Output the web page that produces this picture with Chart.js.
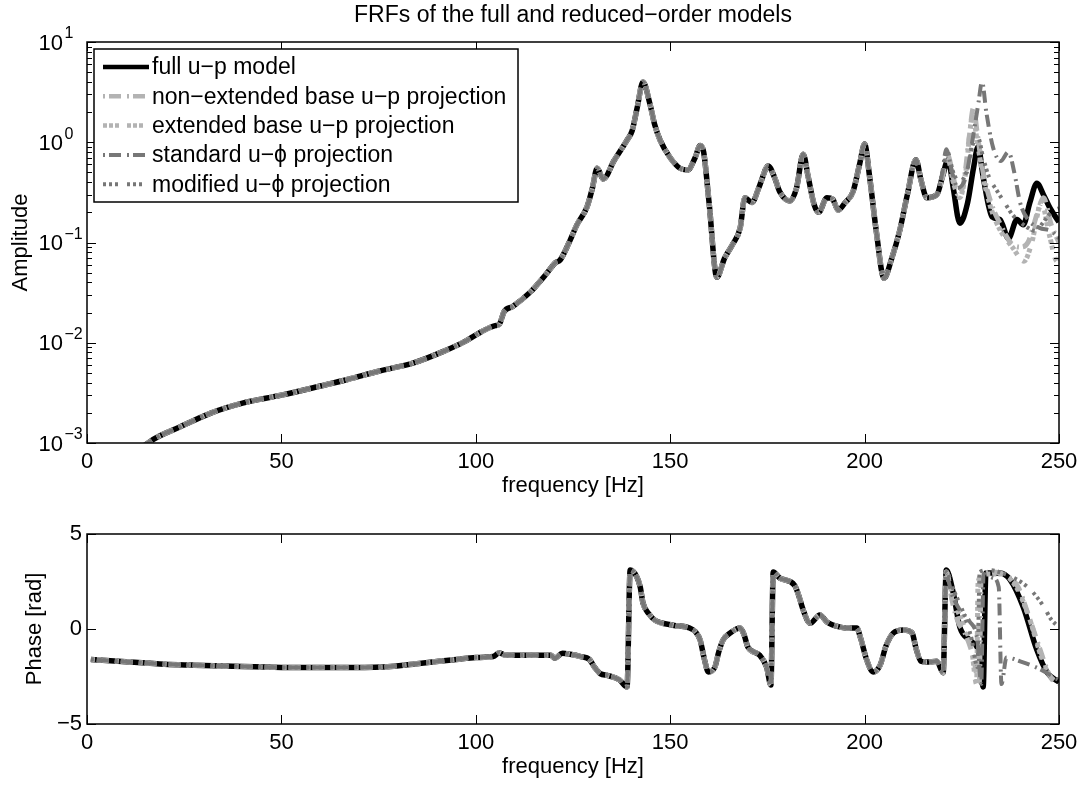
<!DOCTYPE html>
<html><head><meta charset="utf-8">
<script src="https://cdn.jsdelivr.net/npm/chart.js@4/dist/chart.umd.min.js"></script>
<style>
html,body{margin:0;padding:0;background:#fff;}
#wrap{position:relative;width:1084px;height:786px;background:#fff;}
#c1{position:absolute;left:0;top:0;}
#c2{position:absolute;left:0;top:500px;}
</style></head><body>
<div id="wrap">
<canvas id="c1" width="1084" height="500"></canvas>
<canvas id="c2" width="1084" height="286"></canvas>
</div>
<script>
// ---------------- data ----------------
const titleText = 'FRFs of the full and reduced\u2212order models';
const seriesNames = ['full u\u2212p model','non\u2212extended base u\u2212p projection','extended base u\u2212p projection','standard u\u2212\u03d5 projection','modified u\u2212\u03d5 projection'];
const xTicks = [0,50,100,150,200,250];
const ampTicks = [0.001,0.01,0.1,1,10];
const ampTickExp = ['\u22123','\u22122','\u22121','0','1'];
const phaseTicks = [-5,0,5];

// amplitude, full model
const freqAmp = [2,8,16,24,32,40,50,60,67,75,84,92,97,101,105,106,107.3,109.5,114,118,120.5,121.7,124,126,128.6,130,131.2,132.8,135.5,138.9,140.2,141.5,143,144.8,146,147.4,150,152.5,154.5,156.4,157.7,158.6,160,162,164,166,168,169.2,171,173,175.2,176.8,178.2,180.8,182.5,184.2,185.5,187,188.2,190.3,191.8,193.2,195,197,198.7,200,201.3,203,205,207,209,211,213.2,214.5,216,218.6,220,221.5,222.8,224.5,226.5,228,229.2,230.5,232.8,234.8,237,239.2,240.8,242.5,244.3,246,247.7,250];
const ampFull = [0.00012,0.0005,0.00102,0.00145,0.002,0.0025,0.003,0.0037,0.0043,0.0052,0.0063,0.0083,0.0102,0.0126,0.0148,0.0152,0.0205,0.023,0.032,0.048,0.063,0.067,0.1,0.15,0.226,0.35,0.55,0.43,0.65,1.05,1.3,2.2,4.0,2.4,1.5,1.05,0.7,0.55,0.53,0.7,0.93,0.8,0.25,0.045,0.07,0.095,0.14,0.28,0.25,0.37,0.58,0.45,0.32,0.26,0.35,0.76,0.45,0.24,0.2,0.28,0.27,0.21,0.25,0.32,0.6,0.96,0.45,0.13,0.044,0.07,0.13,0.3,0.67,0.42,0.28,0.3,0.45,0.67,0.35,0.156,0.25,0.55,0.9,0.45,0.18,0.17,0.11,0.17,0.15,0.25,0.39,0.3,0.22,0.16];
// amplitude, reduced models (where they depart from the full model)
const ampNonExtF = [220,221.3,222.8,224,225.5,227,228,229,230.5,232.5,235,237.5,240,242,244.5,246,248,250];
const ampNonExtV = [0.45,0.75,0.45,0.3,0.4,1.2,2.2,1.2,0.5,0.25,0.15,0.1,0.09,0.1,0.2,0.28,0.15,0.1];
const ampExtF = [220,221.3,222.8,224.5,226,227.8,229,230.5,232.5,235,238,241,243,245.5,247.5,249.5,250];
const ampExtV = [0.45,0.72,0.4,0.28,0.5,1.8,1.0,0.45,0.22,0.13,0.09,0.065,0.1,0.25,0.12,0.065,0.07];
const ampStdF = [220,221,222.5,224,226,228,229.3,230.2,231.3,233,235,237,238.5,240,242,245,248,250];
const ampStdV = [0.5,0.85,0.5,0.35,0.45,1.2,2.5,4.0,2.0,0.9,0.65,0.8,0.5,0.25,0.17,0.14,0.13,0.11];
const ampModF = [220,221.3,222.8,224.5,226.5,228,229.2,230.5,232,234,236,238,240,242,244,246,248,250];
const ampModV = [0.5,0.8,0.5,0.4,0.55,1.0,1.1,0.7,0.45,0.33,0.25,0.19,0.16,0.14,0.13,0.16,0.2,0.22];

// phase, full model
const freqPh = [1,10,20,27,40,50,65,76,86,95,100,104.5,106,107.6,113,119.3,120.3,122.3,124.3,127,129.2,130.5,132,134,137,138.9,139.7,141.4,142.3,143,144.5,146,150.7,155,156.5,157.7,158.8,159.8,161.5,162.5,163.6,165.5,168,169,170,173,174.8,175.9,176.5,178.2,182,183,184.2,186,188.5,190.3,193.7,196,198,199,200.5,202.2,204,205.5,207.4,210,212.2,213.2,214.5,216,218.6,220.2,221,222.8,224.5,227,229.7,230.5,231.2,234.8,237.4,240.8,244.3,247,250];
const phFull = [-1.6,-1.72,-1.85,-1.9,-1.98,-2.02,-2.03,-2.0,-1.8,-1.6,-1.5,-1.45,-1.25,-1.38,-1.38,-1.38,-1.54,-1.28,-1.33,-1.45,-1.6,-2.0,-2.35,-2.45,-2.68,-3.05,3.1,2.75,2.2,1.37,0.8,0.47,0.2,0.05,-0.15,-0.58,-1.6,-2.26,-2.0,-1.2,-0.58,-0.2,0.05,-0.3,-0.95,-1.37,-2.0,-2.95,3.0,2.68,2.3,1.8,1.0,0.3,0.74,0.37,0.1,0.05,0.05,-0.5,-1.6,-2.26,-1.9,-0.9,-0.21,-0.05,-0.2,-1.0,-1.7,-1.74,-1.7,-2.3,3.1,1.9,0.1,-0.58,-1.47,-3.05,2.95,2.95,2.6,1.16,-1.1,-2.3,-2.8];
// phase, reduced models (where they depart)
const phNonExtF = [220.2,221,222.5,224,226,228,229.5,230,233,236.5,239.5,242,245,247.5,250];
const phNonExtV = [-2.3,3.0,1.5,0.4,-0.3,-1.5,-2.9,2.8,3.0,2.8,2.2,0.8,-1.0,-2.4,-2.9];
const phExtF = [220.2,221,222,223.5,225.5,227.5,228.8,229.2,231,235,239,242.5,245.5,248,250];
const phExtV = [-2.3,3.0,2.3,1.2,0.2,-1.0,-2.9,2.5,2.9,2.9,2.2,0.5,-1.5,-2.6,-2.9];
const phStdF = [220.2,221,222.5,224.5,227,229,230,230.6,233,234.5,235.2,236.5,240,245,250];
const phStdV = [-2.3,2.8,1.8,1.0,0.4,-0.6,-2.9,2.9,2.7,2.2,-2.9,-1.5,-1.7,-2.1,-2.7];
const phModF = [220.2,221,223,225.5,227.5,229,229.6,232,236,240,243,246,248,250];
const phModV = [-2.3,3.0,2.0,0.8,-0.5,-2.0,3.0,3.1,2.9,2.5,2.0,1.2,0.5,0.1];
const splitFreq = 219;

// ---------------- styles ----------------
const FONT = '"Liberation Sans", Arial, Helvetica, sans-serif';
Chart.defaults.font.family = FONT;
Chart.defaults.color = '#000';
const LIGHT = '#b3b3b3', DARK = '#777777';
const styles = [
  {color:'#000', width:5.5, dash:[]},
  {color:LIGHT, width:5, dash:[2,4,12,6]},
  {color:LIGHT, width:5, dash:[4,2,4,2,4,8]},
  {color:DARK, width:4, dash:[2,4,12,6]},
  {color:DARK, width:4, dash:[3,3,3,3,3,9]}
];

function pts(f, v){ return f.map((x,i)=>({x:x, y:v[i]})); }
function merged(fFull, vFull, fT, vT){
  const a = [];
  fFull.forEach((x,i)=>{ if (x < splitFreq) a.push({x:x, y:vFull[i]}); });
  return a.concat(pts(fT, vT));
}
function makeSets(list){
  return list.map((d,i)=>({
    label: seriesNames[i], data: d,
    borderColor: styles[i].color, borderWidth: styles[i].width, borderDash: styles[i].dash,
    pointRadius: 0, fill: false, cubicInterpolationMode: 'monotone', clip: 0,
    order: 5 - i
  }));
}

const ampSets = makeSets([
  pts(freqAmp, ampFull),
  merged(freqAmp, ampFull, ampNonExtF, ampNonExtV),
  merged(freqAmp, ampFull, ampExtF, ampExtV),
  merged(freqAmp, ampFull, ampStdF, ampStdV),
  merged(freqAmp, ampFull, ampModF, ampModV)
]);
const phSets = makeSets([
  pts(freqPh, phFull),
  merged(freqPh, phFull, phNonExtF, phNonExtV),
  merged(freqPh, phFull, phExtF, phExtV),
  merged(freqPh, phFull, phStdF, phStdV),
  merged(freqPh, phFull, phModF, phModV)
]);

// ---------------- frame / ticks plugin ----------------
const framePlugin = {
  id: 'frame',
  afterDatasetsDraw(chart, args, o) {
    const {ctx, chartArea: a} = chart;
    const xs = chart.scales.x, ys = chart.scales.y;
    ctx.save();
    ctx.strokeStyle = '#000';
    ctx.lineWidth = 1;
    ctx.beginPath();
    xTicks.forEach(v => {
      const p = Math.round(xs.getPixelForValue(v)) + 0.5;
      ctx.moveTo(p, a.bottom); ctx.lineTo(p, a.bottom - 9);
      ctx.moveTo(p, a.top); ctx.lineTo(p, a.top + 9);
    });
    o.yMajor.forEach(v => {
      const p = Math.round(ys.getPixelForValue(v)) + 0.5;
      ctx.moveTo(a.left, p); ctx.lineTo(a.left + 9, p);
      ctx.moveTo(a.right, p); ctx.lineTo(a.right - 9, p);
    });
    if (o.logMinor) {
      for (let d = -3; d < 1; d++) {
        for (let k = 2; k <= 9; k++) {
          const p = Math.round(ys.getPixelForValue(k * Math.pow(10, d))) + 0.5;
          ctx.moveTo(a.left, p); ctx.lineTo(a.left + 5, p);
          ctx.moveTo(a.right, p); ctx.lineTo(a.right - 5, p);
        }
      }
    }
    ctx.stroke();
    ctx.lineWidth = 1.5;
    ctx.strokeRect(a.left, a.top, a.right - a.left, a.bottom - a.top);

    if (o.logLabels) {
      ctx.fillStyle = '#000';
      ctx.textBaseline = 'middle';
      ampTicks.forEach((v, i) => {
        const p = ys.getPixelForValue(v);
        ctx.font = '22px ' + FONT;
        ctx.textAlign = 'right';
        ctx.fillText('10', 63, p + 1.5);
        ctx.font = '16px ' + FONT;
        ctx.textAlign = 'left';
        ctx.fillText(ampTickExp[i], 64.5, p - 8);
      });
    }
    if (o.title) {
      ctx.fillStyle = '#000';
      ctx.font = '23px ' + FONT;
      ctx.textAlign = 'center';
      ctx.textBaseline = 'middle';
      ctx.fillText(o.title, (a.left + a.right) / 2, 16);
    }
    if (o.legend) {
      const L = 94, T = 49, R = 518, B = 202, row0 = 67, dy = 29.3;
      ctx.fillStyle = '#fff';
      ctx.fillRect(L, T, R - L, B - T);
      ctx.lineWidth = 1.5;
      ctx.strokeStyle = '#000';
      ctx.setLineDash([]);
      ctx.strokeRect(L, T, R - L, B - T);
      ctx.font = '23px ' + FONT;
      ctx.textAlign = 'left';
      ctx.textBaseline = 'middle';
      seriesNames.forEach((name, i) => {
        const y = row0 + i * dy;
        const s = styles[i];
        ctx.beginPath();
        ctx.strokeStyle = s.color;
        ctx.lineWidth = Math.min(s.width, 4.5);
        ctx.setLineDash(s.dash);
        ctx.moveTo(103, y); ctx.lineTo(149, y);
        ctx.stroke();
        ctx.setLineDash([]);
        ctx.fillStyle = '#000';
        ctx.fillText(name, 152, y + 1);
      });
    }
    ctx.restore();
  }
};

function xAxis(h, tickPad, titlePad) {
  return {
    type: 'linear', min: 0, max: 250,
    grid: {display: false, drawTicks: false}, border: {display: false},
    ticks: {stepSize: 50, font: {size: 22}, padding: tickPad, maxRotation: 0, autoSkip: false, color: '#000'},
    title: {display: true, text: 'frequency [Hz]', font: {size: 22}, padding: {top: 0, bottom: titlePad}, color: '#000'},
    afterFit: s => { s.height = h; }
  };
}

new Chart(document.getElementById('c1'), {
  type: 'line',
  data: {datasets: ampSets},
  options: {
    responsive: false, animation: false, devicePixelRatio: 1,
    layout: {padding: {left: 0, right: 25, top: 42, bottom: 0}},
    plugins: {legend: {display: false}, tooltip: {enabled: false},
      frame: {yMajor: ampTicks, logMinor: true, logLabels: true, title: titleText, legend: true}},
    scales: {
      x: xAxis(57, 6, 0.8),
      y: {
        type: 'logarithmic', min: 0.001, max: 10,
        grid: {display: false, drawTicks: false}, border: {display: false},
        ticks: {display: false},
        title: {display: true, text: 'Amplitude', font: {size: 22}, padding: {top: 8, bottom: 0}, color: '#000'},
        afterFit: s => { s.width = 87; }
      }
    }
  },
  plugins: [framePlugin]
});

new Chart(document.getElementById('c2'), {
  type: 'line',
  data: {datasets: phSets},
  options: {
    responsive: false, animation: false, devicePixelRatio: 1,
    layout: {padding: {left: 0, right: 25, top: 34, bottom: 0}},
    plugins: {legend: {display: false}, tooltip: {enabled: false},
      frame: {yMajor: phaseTicks, logMinor: false, logLabels: false, title: null, legend: false}},
    scales: {
      x: xAxis(62, 5.3, 5.8),
      y: {
        type: 'linear', min: -5, max: 5,
        grid: {display: false, drawTicks: false}, border: {display: false},
        ticks: {stepSize: 5, font: {size: 22}, padding: 5, color: '#000',
          callback: v => (v < 0 ? '\u2212' + Math.abs(v) : String(v))},
        title: {display: true, text: 'Phase [rad]', font: {size: 22}, padding: {top: 22, bottom: 0}, color: '#000'},
        afterFit: s => { s.width = 87; }
      }
    }
  },
  plugins: [framePlugin]
});
</script>
</body></html>
